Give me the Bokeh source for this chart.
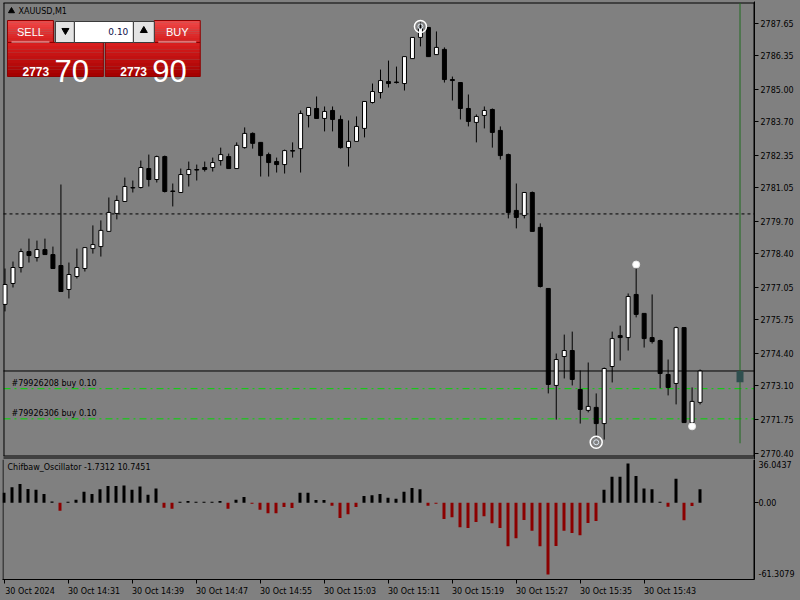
import numpy as np
from bokeh.plotting import figure
from bokeh.layouts import column
from bokeh.models import (Range1d, FixedTicker, PrintfTickFormatter,
                          LinearAxis, GlobalInlineStyleSheet)
from bokeh.core.properties import value
from bokeh.embed import file_html
from bokeh.resources import INLINE

# ---------------- data ----------------
symbol = "XAUUSD,M1"
time_labels = ["30 Oct 2024", "30 Oct 14:31", "30 Oct 14:39", "30 Oct 14:47", "30 Oct 14:55",
               "30 Oct 15:03", "30 Oct 15:11", "30 Oct 15:19", "30 Oct 15:27", "30 Oct 15:35",
               "30 Oct 15:43"]
time_label_bars = [0, 8, 16, 24, 32, 40, 48, 56, 64, 72, 80]

opens = [2776.37, 2777.21, 2777.85, 2778.49, 2778.25, 2778.57, 2778.37, 2777.93, 2776.97, 2777.49,
         2777.81, 2778.61, 2778.69, 2779.30, 2780.02, 2780.50, 2781.04, 2781.06, 2781.82, 2781.38,
         2782.30, 2780.92, 2780.86, 2781.58, 2781.78, 2781.86, 2781.86, 2782.14, 2782.30, 2781.82,
         2782.66, 2783.23, 2782.87, 2782.38, 2782.10, 2781.98, 2782.54, 2782.62, 2783.95, 2784.23,
         2783.83, 2784.15, 2783.79, 2782.66, 2782.91, 2783.43, 2784.47, 2784.87, 2785.31, 2785.29,
         2785.23, 2786.23, 2787.08, 2787.48, 2786.39, 2786.60, 2785.39, 2785.27, 2784.23, 2783.67,
         2783.95, 2784.19, 2783.35, 2782.38, 2780.14, 2779.94, 2780.86, 2779.46, 2777.01, 2773.12,
         2774.28, 2774.52, 2772.96, 2772.12, 2772.24, 2771.59, 2773.88, 2775.12, 2775.04, 2776.77,
         2776.01, 2775.04, 2774.92, 2773.56, 2773.20, 2775.44, 2771.63, 2772.44]
closes = [2777.17, 2777.85, 2778.49, 2778.33, 2778.57, 2778.37, 2777.81, 2776.89, 2777.57, 2777.85,
          2778.65, 2778.77, 2779.34, 2780.06, 2780.54, 2781.10, 2781.06, 2781.86, 2781.38, 2782.30,
          2780.90, 2780.90, 2781.58, 2781.78, 2781.76, 2781.78, 2782.06, 2782.38, 2781.82, 2782.75,
          2783.23, 2782.83, 2782.34, 2782.06, 2781.98, 2782.54, 2782.52, 2784.03, 2784.27, 2783.83,
          2784.11, 2783.79, 2782.66, 2782.91, 2783.51, 2784.51, 2784.91, 2785.35, 2785.23, 2785.27,
          2786.31, 2787.08, 2787.44, 2786.31, 2786.68, 2785.39, 2785.35, 2784.23, 2783.71, 2783.91,
          2784.15, 2783.27, 2782.34, 2780.06, 2779.86, 2780.86, 2779.30, 2777.09, 2773.16, 2774.16,
          2774.52, 2773.36, 2772.16, 2772.28, 2771.59, 2773.80, 2775.00, 2775.04, 2776.69, 2775.97,
          2775.00, 2774.88, 2773.60, 2773.04, 2775.44, 2771.63, 2772.48, 2773.70]
highs = [2777.81, 2778.09, 2778.61, 2779.01, 2778.93, 2779.01, 2778.69, 2781.18, 2778.05, 2778.61,
         2778.65, 2779.54, 2779.74, 2780.66, 2780.74, 2781.46, 2781.34, 2782.14, 2782.38, 2782.34,
         2782.34, 2781.22, 2781.82, 2782.10, 2781.98, 2782.10, 2782.26, 2782.66, 2782.42, 2782.87,
         2783.47, 2783.27, 2782.87, 2782.46, 2782.26, 2782.58, 2782.87, 2784.15, 2784.27, 2784.71,
         2784.31, 2784.31, 2783.95, 2783.75, 2783.91, 2784.51, 2785.23, 2785.79, 2786.15, 2785.91,
         2786.31, 2787.08, 2787.68, 2787.48, 2787.32, 2786.68, 2785.51, 2785.27, 2784.79, 2783.99,
         2784.31, 2784.23, 2783.51, 2782.42, 2781.22, 2780.86, 2780.90, 2779.62, 2777.01, 2774.40,
         2775.16, 2775.28, 2773.72, 2774.04, 2772.80, 2773.84, 2775.28, 2775.52, 2776.81, 2777.89,
         2776.01, 2776.77, 2774.96, 2774.16, 2775.48, 2775.44, 2773.04, 2773.76]
lows = [2776.09, 2777.05, 2777.65, 2778.05, 2778.09, 2778.37, 2777.81, 2776.89, 2776.61, 2777.41,
        2777.69, 2778.41, 2778.29, 2779.30, 2779.78, 2780.50, 2780.86, 2781.02, 2781.10, 2781.26,
        2780.86, 2780.30, 2780.86, 2781.10, 2781.34, 2781.70, 2781.70, 2781.94, 2781.82, 2781.82,
        2782.62, 2782.62, 2781.50, 2781.50, 2781.66, 2781.62, 2782.26, 2781.66, 2783.47, 2783.83,
        2783.31, 2783.31, 2782.62, 2781.90, 2782.91, 2783.07, 2784.43, 2784.63, 2785.07, 2785.23,
        2784.95, 2786.23, 2786.72, 2786.31, 2786.39, 2785.27, 2784.55, 2783.79, 2783.51, 2782.87,
        2783.43, 2782.66, 2782.18, 2779.82, 2779.42, 2779.82, 2779.30, 2777.05, 2772.80, 2771.75,
        2773.40, 2773.12, 2771.59, 2772.04, 2771.03, 2770.95, 2773.24, 2774.12, 2774.52, 2775.85,
        2774.64, 2774.80, 2773.00, 2772.72, 2772.36, 2771.63, 2771.63, 2772.36]

osc_values = [8.1, 12.4, 15.1, 11.1, 10.5, 7.0, 1.1, -6.5, 0.8, 2.4,
              8.9, 7.0, 10.8, 13.5, 13.5, 13.8, 10.5, 13.0, 6.5, 11.4,
              -4.0, -4.9, 0.8, 1.4, 0.8, 0.8, 0.8, 1.4, -4.9, 2.4,
              4.6, -0.8, -5.7, -8.4, -8.4, -3.5, -4.3, 8.1, 8.1, 2.2,
              2.2, -2.4, -12.2, -9.2, -3.5, 5.4, 6.0, 7.0, 4.0, 3.2,
              8.9, 11.9, 10.8, -2.4, -0.8, -13.0, -11.6, -19.7, -20.3, -15.4,
              -10.8, -16.5, -20.3, -34.9, -28.4, -13.8, -22.4, -34.9, -57.6, -34.6,
              -22.4, -24.3, -26.0, -16.2, -14.6, 10.5, 20.8, 20.8, 31.4, 21.4,
              11.4, 10.8, 0.8, -3.2, 19.2, -14.1, -2.7, 10.75]
osc_name = "Chifbaw_Oscillator -1.7312 10.7451"
osc_max, osc_min = 36.0437, -61.3079

price_ticks = [2787.65, 2786.35, 2785.00, 2783.70, 2782.35, 2781.05, 2779.70,
               2778.40, 2777.05, 2775.75, 2774.40, 2773.10, 2771.75, 2770.40]
bid_price = 2773.70
alert_price = 2780.00
order_labels = ["#79926208 buy 0.10", "#79926306 buy 0.10"]
order_prices = [2772.99, 2771.78]
ring_bars = [52, 74]
ring_prices = [2787.52, 2770.84]
dot_bars = [79, 86]
dot_prices = [2777.97, 2771.48]
cursor_bar = 92
cursor_low = 2770.80
ghost_top, ghost_bottom = 2773.70, 2773.25
sell_big, sell_small = "70", "2773"
buy_big, buy_small = "90", "2773"
lot_text = "0.10"

# ---------------- layout helpers (chrome only) ----------------
FONT = value("DejaVu Sans")
BG = "#808080"
PRICE_AT_0, PRICE_PER_PX = 2788.561, 0.040112
OSC_PER_PX = (osc_max - osc_min) / 121.4


def sx(px):          # page pixel x -> bar index
    return (px - 3.5) / 8.0


def sy(py):          # page pixel y -> price
    return PRICE_AT_0 - PRICE_PER_PX * py


def oy(py):          # page pixel y -> oscillator value
    return osc_max - (py - 457.3) * OSC_PER_PX


def mix(c0, c1, t):
    return "#%02x%02x%02x" % tuple(int(round(a + (b - a) * t)) for a, b in zip(c0, c1))


X0, X1 = sx(2), sx(754)
BLACK_TEXT = dict(text_font=FONT, text_font_size=value("8px"), text_color="black",
                  text_baseline="middle", text_align="left")

# ---------------- main price chart ----------------
p = figure(width=800, height=459, x_range=Range1d(sx(1), X1), y_range=Range1d(sy(459), sy(1)),
           x_axis_location=None, y_axis_location="right", output_backend="svg",
           toolbar_location=None, min_border_left=1, min_border_right=46,
           min_border_top=1, min_border_bottom=0)
p.background_fill_color = BG
p.border_fill_color = BG
p.outline_line_color = None
p.grid.visible = False

ya = p.yaxis[0]
ya.ticker = FixedTicker(ticks=price_ticks)
ya.formatter = PrintfTickFormatter(format="%.2f")
ya.major_tick_out = 4
ya.major_tick_in = 0
ya.minor_tick_line_color = None
ya.axis_line_color = "black"
ya.major_tick_line_color = "black"
ya.major_label_text_font = "DejaVu Sans"
ya.major_label_text_font_size = "8px"
ya.major_label_text_color = "black"
ya.major_label_standoff = 2

# panel borders (main panel incl. right edge, and top edge of the indicator panel)
p.segment(x0=[X0, sx(2.5), X0, X0, sx(753.5)],
          y0=[sy(2.5), sy(2.5), sy(455.5), sy(457.5), sy(2)],
          x1=[X1, sx(2.5), X1, X1, sx(753.5)],
          y1=[sy(2.5), sy(455.5), sy(455.5), sy(457.5), sy(456)],
          line_color="black", line_width=1)

# horizontal levels
p.segment(x0=[X0], y0=[alert_price], x1=[X1], y1=[alert_price], line_color="black",
          line_dash="3 3", line_width=1, level="underlay")
p.segment(x0=[X0] * 2, y0=order_prices, x1=[X1] * 2, y1=order_prices, line_color="#00d800",
          line_dash="7 4 2 4", line_width=1, level="underlay")
p.segment(x0=[X0], y0=[bid_price], x1=[X1], y1=[bid_price], line_color="black",
          line_width=1, level="underlay")

p.segment(x0=[cursor_bar], y0=[sy(2.5)], x1=[cursor_bar], y1=[cursor_low],
          line_color="#1f6b1f", line_width=1)
p.vbar(x=[cursor_bar], top=[ghost_top], bottom=[ghost_bottom], width=0.875,
       fill_color="#2f4f4f", line_color=None)

idx = np.arange(len(opens))
o_a, c_a = np.array(opens), np.array(closes)
bull = c_a >= o_a
p.segment(x0=idx, y0=highs, x1=idx, y1=lows, line_color="black", line_width=1)
p.vbar(x=idx, top=np.maximum(o_a, c_a), bottom=np.minimum(o_a, c_a), width=0.5,
       fill_color=["white" if b else "black" for b in bull], line_color="black", line_width=1)

p.scatter(x=ring_bars, y=ring_prices, size=12, marker="circle", fill_color=None,
          line_color="white", line_width=1.5)
p.scatter(x=ring_bars, y=ring_prices, size=5, marker="circle", fill_color=None,
          line_color="#dfe8f2", line_width=1)
p.scatter(x=dot_bars, y=dot_prices, size=7, marker="circle", fill_color="white",
          line_color="#e8e8e8", line_width=1)

p.text(x=[sx(10)] * 2, y=[sy(383), sy(413)], text=order_labels, **BLACK_TEXT)

# title
p.scatter(x=[sx(10)], y=[sy(10.5)], size=6, marker="triangle", fill_color="black", line_color="black")
p.text(x=[sx(17)], y=[sy(10.5)], text=[symbol], **BLACK_TEXT)

# one-click trading panel


def grad_box(x0, x1, y0, y1, c0, c1, n=10):
    for k in range(n):
        t = k / (n - 1)
        ya0 = y0 + (y1 - y0) * k / n
        ya1 = y0 + (y1 - y0) * (k + 1) / n
        p.quad(left=[sx(x0)], right=[sx(x1)], top=[sy(ya0)], bottom=[sy(ya1)],
               fill_color=mix(c0, c1, t), line_color=None)
    p.quad(left=[sx(x0)], right=[sx(x1)], top=[sy(y0)], bottom=[sy(y1)],
           fill_color=None, line_color="#8c0000", line_width=1)


grad_box(6, 52, 20, 42, (238, 70, 70), (214, 30, 30))
grad_box(153, 199, 20, 42, (238, 70, 70), (214, 30, 30))
grad_box(6, 102, 42, 76, (216, 30, 30), (165, 0, 0))
grad_box(104, 199, 42, 76, (216, 30, 30), (165, 0, 0))
p.segment(x0=[sx(10), sx(157)], y0=[sy(41.5)] * 2, x1=[sx(48), sx(195)], y1=[sy(41.5)] * 2,
          line_color="#f4c8c8", line_width=1)
p.text(x=[sx(29), sx(176)], y=[sy(31)] * 2, text=["SELL", "BUY"], text_font=value("Liberation Sans"),
       text_font_size=value("11px"), text_color="white", text_baseline="middle", text_align="center")
p.text(x=[sx(21), sx(119)], y=[sy(71)] * 2, text=[sell_small, buy_small],
       text_font=value("Liberation Sans"), text_font_style="bold", text_font_size=value("12px"),
       text_color="white", text_baseline="alphabetic", text_align="left")
p.text(x=[sx(53), sx(151)], y=[sy(70.5)] * 2, text=[sell_big, buy_big],
       text_font=value("Liberation Sans"), text_font_size=value("31px"),
       text_color="white", text_baseline="alphabetic", text_align="left")
p.quad(left=[sx(54), sx(132)], right=[sx(73), sx(153)], top=[sy(21)] * 2, bottom=[sy(42)] * 2,
       fill_color="#e4e4e4", line_color="#3a3a3a", line_width=1)
p.quad(left=[sx(73)], right=[sx(132)], top=[sy(21)], bottom=[sy(42)],
       fill_color="white", line_color="#3a3a3a", line_width=1)
p.scatter(x=[sx(64)], y=[sy(30)], size=7, marker="inverted_triangle", fill_color="black", line_color="black")
p.scatter(x=[sx(142.5)], y=[sy(30)], size=7, marker="triangle", fill_color="black", line_color="black")
p.text(x=[sx(127)], y=[sy(31)], text=[lot_text], text_font=FONT, text_font_size=value("9px"),
       text_color="#10104a", text_baseline="middle", text_align="right")

# ---------------- oscillator ----------------
o = figure(width=800, height=141, x_range=Range1d(X0, X1), y_range=Range1d(oy(579), oy(459)),
           x_axis_location=None, y_axis_location="right", output_backend="svg",
           toolbar_location=None, min_border_left=2, min_border_right=46,
           min_border_top=0, min_border_bottom=21)
o.background_fill_color = BG
o.border_fill_color = BG
o.outline_line_color = None
o.grid.visible = False
oa = o.yaxis[0]
osc_tick_pos = [round(oy(464.3), 3), 0.0, round(oy(572.7), 3)]
oa.ticker = FixedTicker(ticks=osc_tick_pos, minor_ticks=[0.0])
oa.major_label_overrides = {osc_tick_pos[0]: "%.4f" % osc_max, 0.0: "0.00",
                            osc_tick_pos[2]: "%.4f" % osc_min}
oa.major_tick_out = 4
oa.major_tick_in = 0
oa.major_tick_line_color = None
oa.minor_tick_out = 4
oa.minor_tick_in = 0
oa.minor_tick_line_color = "black"
oa.axis_line_color = "black"
oa.major_label_text_font = "DejaVu Sans"
oa.major_label_text_font_size = "8px"
oa.major_label_text_color = "black"
oa.major_label_standoff = 0

lab_pos = [b + 3.25 for b in time_label_bars]
lab_axis = LinearAxis(ticker=FixedTicker(ticks=lab_pos, minor_ticks=time_label_bars),
                      major_label_overrides={pos: t for pos, t in zip(lab_pos, time_labels)},
                      major_tick_out=0, major_tick_in=0, major_tick_line_color=None,
                      minor_tick_out=4, minor_tick_in=0, minor_tick_line_color="black",
                      axis_line_color="black",
                      major_label_standoff=3, major_label_text_font="DejaVu Sans",
                      major_label_text_font_size="8px", major_label_text_color="black")
o.add_layout(lab_axis, "below")

o.segment(x0=[sx(2.5), sx(753.5)], y0=[oy(459)] * 2, x1=[sx(2.5), sx(753.5)], y1=[oy(579)] * 2,
          line_color="black", line_width=1)

ov = np.array(osc_values)
o.vbar(x=idx, top=np.maximum(ov, 0), bottom=np.minimum(ov, 0), width=0.375,
       fill_color=["black" if v >= 0 else "#8b0000" for v in ov], line_color=None)
o.text(x=[sx(7)], y=[oy(467)], text=[osc_name], **BLACK_TEXT)

layout = column(p, o, spacing=0)
layout.stylesheets = [GlobalInlineStyleSheet(css="html,body{margin:0;padding:0;background:#808080;overflow:hidden;}")]

open("out.html", "w").write(file_html(layout, INLINE))
